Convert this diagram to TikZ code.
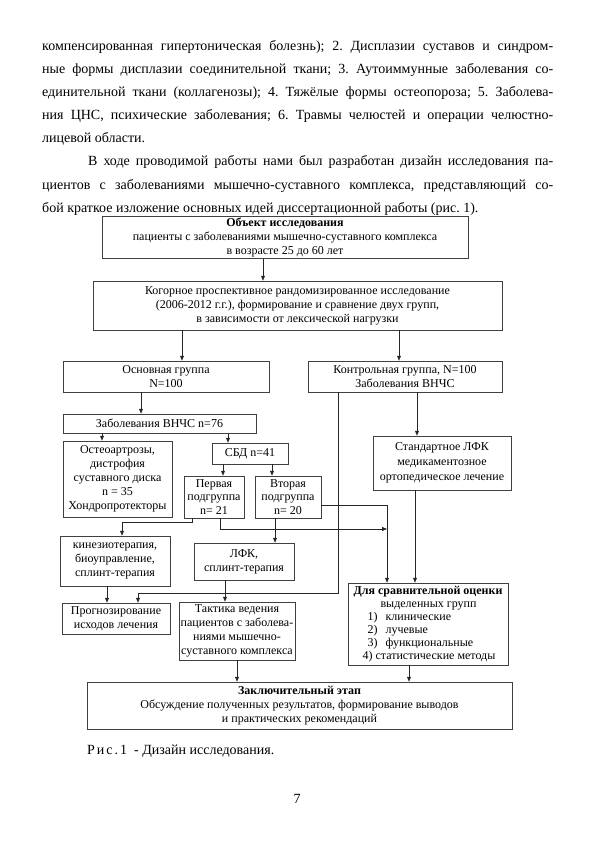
\documentclass[tikz,border=0pt]{standalone}
\usepackage{fontspec}
\setmainfont{Liberation Serif}
\usetikzlibrary{arrows.meta}
\frenchspacing
\begin{document}
\begin{tikzpicture}[x=1pt,y=-1pt,
  box/.style={draw=black!75, line width=0.6pt, inner sep=1pt, align=center,
    font=\fontsize{12}{14}\selectfont},
  arr/.style={-{Triangle[length=4.8pt,width=3.8pt]}, line width=0.6pt, draw=black!85},
  body/.style={anchor=base west, inner sep=0pt, font=\fontsize{14}{16}\selectfont}]
\useasboundingbox (0,0) rectangle (594,842);
\fill[white] (0,0) rectangle (594,842);

% ---- body text ----
\node[body] (t1) at (42,51) {\makebox[511pt][s]{компенсированная гипертоническая болезнь); 2. Дисплазии суставов и синдром-}};
\node[body] (t2) at (42,74) {\makebox[511pt][s]{ные формы дисплазии соединительной ткани; 3. Аутоиммунные заболевания со-}};
\node[body] (t3) at (42,97) {\makebox[511pt][s]{единительной ткани (коллагенозы); 4. Тяжёлые формы остеопороза; 5. Заболева-}};
\node[body] (t4) at (42,120) {\makebox[511pt][s]{ния ЦНС, психические заболевания; 6. Травмы челюстей и операции челюстно-}};
\node[body] (t5) at (42,143) {лицевой области.};
\node[body] (t6) at (88,166) {\makebox[465pt][s]{В ходе проводимой работы нами был разработан дизайн исследования па-}};
\node[body] (t7) at (42,190) {\makebox[511pt][s]{циентов с заболеваниями мышечно-суставного комплекса, представляющий со-}};
\node[body] (t8) at (42,213) {бой краткое изложение основных идей диссертационной работы (рис. 1).};

% ---- boxes ----
\node[box, minimum width=366, minimum height=42] (A) at (285,237.5)
  {\textbf{Объект исследования}\\пациенты с заболеваниями мышечно-суставного комплекса\\в возрасте 25 до 60 лет};
\node[box, minimum width=409, minimum height=49] (B) at (297.5,305.5)
  {Когорное проспективное рандомизированное исследование\\(2006-2012 г.г.), формирование и сравнение двух групп,\\в зависимости от лексической нагрузки};
\node[box, minimum width=206, minimum height=31] (C) at (166,376.5) {Основная группа\\N=100};
\node[box, minimum width=194, minimum height=31] (D) at (405,376.5) {Контрольная группа, N=100\\Заболевания ВНЧС};
\node[box, minimum width=193, minimum height=19] (E) at (159.5,423.5) {Заболевания ВНЧС n=76};
\node[box, minimum width=109, minimum height=76] (F) at (117.5,479)
  {Остеоартрозы,\\дистрофия\\суставного диска\\n = 35\\Хондропротекторы};
\node[box, minimum width=76, minimum height=21] (G) at (250,453.5) {СБД n=41};
\node[box, minimum width=60, minimum height=42, font=\fontsize{12}{13.5}\selectfont] (H) at (214,497) {Первая\\подгруппа\\n= 21};
\node[box, minimum width=66, minimum height=42, font=\fontsize{12}{13.5}\selectfont] (I) at (288,497) {Вторая\\подгруппа\\n= 20};
\node[box, minimum width=138, minimum height=54, font=\fontsize{12}{15}\selectfont] (J) at (442,463)
  {Стандартное ЛФК\\медикаментозное\\ортопедическое лечение};
\node[box, minimum width=110, minimum height=50] (K) at (115,561)
  {кинезиотерапия,\\биоуправление,\\сплинт-терапия};
\node[box, minimum width=100, minimum height=37] (L) at (244,561.5) {ЛФК,\\сплинт-терапия};
\node[box, minimum width=108, minimum height=31] (M) at (116,618.5) {Прогнозирование\\исходов лечения};
\node[box, minimum width=116, minimum height=58, inner sep=0pt, font=\fontsize{12}{14}\selectfont] (N) at (237,631)
  {Тактика ведения\\пациентов с заболева-\\ниями мышечно-\\суставного комплекса};
\node[box, minimum width=160, minimum height=82, align=left, font=\fontsize{12}{13}\selectfont] (O) at (428,624)
  {\textbf{Для сравнительной оценки}\\\hspace*{27pt}выделенных групп\\\hspace*{14pt}1)\hspace{8pt}клинические\\\hspace*{14pt}2)\hspace{8pt}лучевые\\\hspace*{14pt}3)\hspace{8pt}функциональные\\\hspace*{9pt}4) статистические методы};
\node[box, minimum width=425, minimum height=47] (P) at (299.5,705.5)
  {\textbf{Заключительный этап}\\Обсуждение полученных результатов, формирование выводов\\и практических рекомендаций};

% ---- connectors ----
\draw[arr] (A.south -| 263,0) -- (B.north -| 263,0);
\draw[arr] (B.south -| 182,0) -- (C.north -| 182,0);
\draw[arr] (B.south -| 399,0) -- (D.north -| 399,0);
\draw[arr] (C.south -| 141,0) -- (E.north -| 141,0);
\draw[arr] (E.south -| 102,0) -- (F.north -| 102,0);
\draw[arr] (E.south -| 228,0) -- (G.north -| 228,0);
\draw[arr] (G.south -| 223,0) -- (H.north -| 223,0);
\draw[arr] (G.south -| 272,0) -- (I.north -| 272,0);
\draw[arr] (D.south -| 417,0) -- (J.north -| 417,0);
\draw[arr] (D.south -| 338,0) -- (338,593) -- (138,593) -- (M.north -| 138,0);
\draw[arr] (H.south -| 192,0) -- (192,522) -- (122,522) -- (K.north -| 122,0);
\coordinate (jn) at (387,529);
\draw[arr] (H.south -| 220,0) -- (220,529) -- (jn);
\draw[arr] (I.east |- 0,505) -- (387,505) -- (O.north -| 387,0);
\draw[arr] (I.south -| 275,0) -- (L.north -| 275,0);
\draw[arr] (J.south -| 415,0) -- (O.north -| 415,0);
\draw[arr] (K.south -| 107,0) -- (M.north -| 107,0);
\draw[arr] (L.south -| 225,0) -- (N.north -| 225,0);
\draw[arr] (N.south) -- (P.north -| N.south);
\draw[arr] (O.south -| 409,0) -- (P.north -| 409,0);

% ---- caption and page number ----
\node[body] (cap) at (87,754) {Р\hspace{2pt}и\hspace{2pt}с\hspace{2pt}.\hspace{2pt}1 \ - Дизайн исследования.};
\node[body, anchor=base] (pg) at (297,803) {7};
\end{tikzpicture}
\end{document}
